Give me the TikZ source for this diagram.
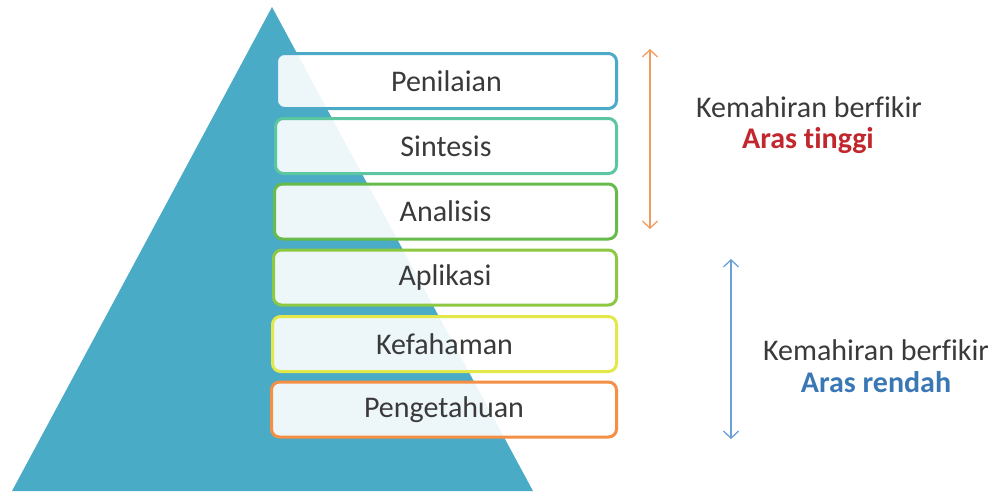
\documentclass[tikz,border=0pt]{standalone}
\usepackage{fontspec}
\setmainfont{Carlito}[Ligatures=NoCommon]
\usepackage{xcolor}
\usetikzlibrary{arrows.meta}

\definecolor{pyramid}{HTML}{4AABC6}
\definecolor{cPen}{HTML}{4AAAC8}
\definecolor{cSin}{HTML}{5CC6A0}
\definecolor{cAna}{HTML}{66BB4A}
\definecolor{cApl}{HTML}{8DC843}
\definecolor{cKef}{HTML}{E3E84A}
\definecolor{cPng}{HTML}{F58F45}
\definecolor{labelgrey}{HTML}{3A3A3A}
\definecolor{tinggi}{HTML}{C1272D}
\definecolor{rendah}{HTML}{3A78B5}
\definecolor{arrOrange}{HTML}{F49A5E}
\definecolor{arrBlue}{HTML}{6A9FD8}

\tikzset{
	levelbox/.style={draw, line width=3pt, rounded corners=8pt, fill=white, fill opacity=0.9, text opacity=1,
		text=labelgrey, font=\fontsize{30}{34}\selectfont, inner sep=0pt, minimum height=55pt},
	sidetext/.style={font=\fontsize{30}{34}\selectfont, text=labelgrey, inner sep=0pt},
	levelarrow/.style={line width=1.3pt, {Straight Barb[length=7pt,width=15pt]}-{Straight Barb[length=7pt,width=15pt]}}
}

\begin{document}
\begin{tikzpicture}[x=1pt,y=-1pt]
	\useasboundingbox (0,0) rectangle (998,491);
	\fill[pyramid] (272,7) -- (12,491) -- (533,491) -- cycle;

	\node[levelbox, draw=cPen, minimum width=340pt] (pen) at (446.5,81) {Penilaian};
	\node[levelbox, draw=cSin, minimum width=341pt] (sin) at (446,146) {Sintesis};
	\node[levelbox, draw=cAna, minimum width=342pt] (ana) at (445.5,211.5) {Analisis};
	\node[levelbox, draw=cApl, minimum width=343pt] (apl) at (445,277.5) {Aplikasi};
	\node[levelbox, draw=cKef, minimum width=344pt] (kef) at (444.5,344) {Kefahaman};
	\node[levelbox, draw=cPng, minimum width=345pt] (png) at (444,409.5) {Pengetahuan};

	\coordinate (hiTop) at (650,49);
	\coordinate (hiBot) at (650,229);
	\draw[levelarrow, arrOrange] (hiTop) -- (hiBot);
	\coordinate (loTop) at (731,259);
	\coordinate (loBot) at (731,439);
	\draw[levelarrow, arrBlue] (loTop) -- (loBot);

	\node[sidetext] (hiSkill) at (809,107) {Kemahiran berfikir};
	\node[sidetext, text=tinggi, font=\fontsize{30}{34}\selectfont\bfseries] (hiLevel) at (808,141) {Aras tinggi};
	\node[sidetext] (loSkill) at (876,350) {Kemahiran berfikir};
	\node[sidetext, text=rendah, font=\fontsize{30}{34}\selectfont\bfseries] (loLevel) at (876,382) {Aras rendah};
\end{tikzpicture}
\end{document}
